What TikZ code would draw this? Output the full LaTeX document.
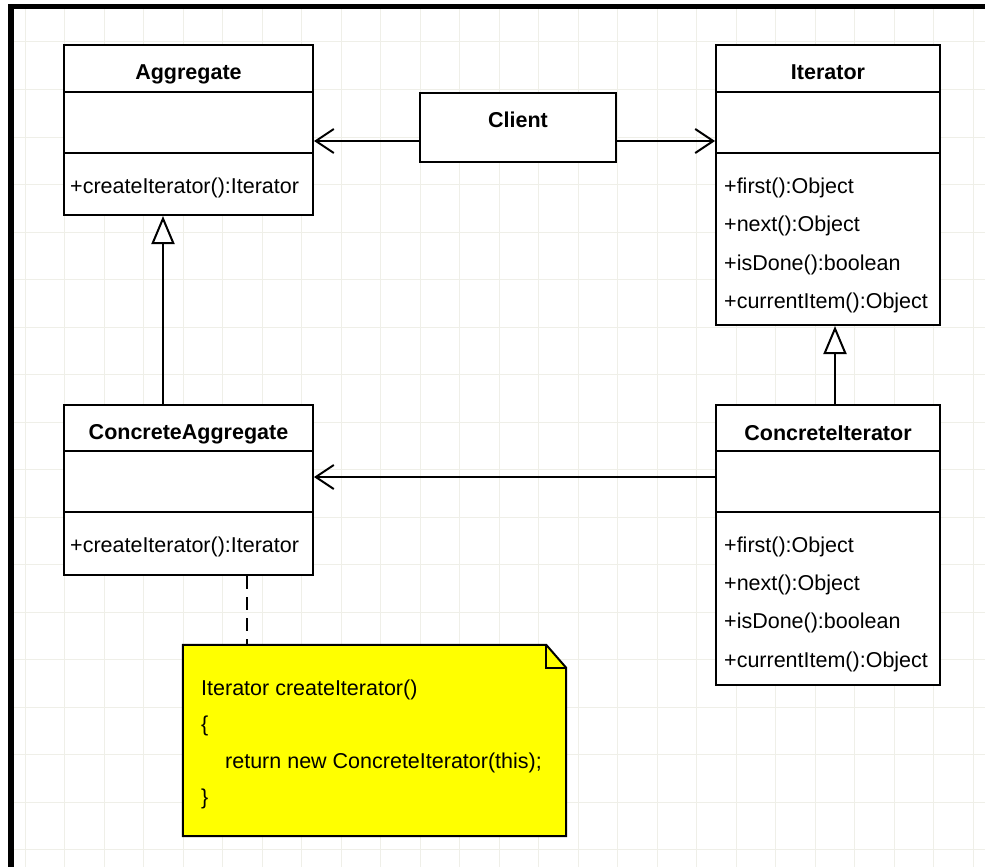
\documentclass[tikz,border=0pt]{standalone}
\usepackage{fontspec}
\setmainfont{Liberation Sans}
\usetikzlibrary{arrows.meta}
\definecolor{gridc}{RGB}{239,239,232}
\definecolor{noteyellow}{RGB}{255,255,0}
\tikzset{
  classbox/.style={draw=black, line width=2pt, fill=white, rectangle, inner sep=0pt},
  divider/.style={line width=2pt},
  ctitle/.style={font=\fontsize{21.5}{26}\selectfont\bfseries, anchor=base, inner sep=0pt},
  member/.style={font=\fontsize{21.5}{26}\selectfont, anchor=base west, inner sep=0pt},
  assoc/.style={line width=2pt, -{Straight Barb[length=18pt,width=24pt]}},
  gen/.style={line width=2pt, -{Triangle[open,length=28pt,width=23pt,fill=white]}},
  notelink/.style={line width=2pt, dash pattern=on 13pt off 8pt},
  notebox/.style={rectangle, inner sep=0pt, minimum width=383pt, minimum height=191pt},
  gridline/.style={draw=gridc, line width=1pt},
}
\begin{document}
\begin{tikzpicture}[x=1pt,y=-1pt]
\useasboundingbox (0,0) rectangle (985,867);
\fill[white] (0,0) rectangle (985,867);
% background grid
\foreach \gx in {0,...,24} \draw[gridline] ({25+39.5*\gx},9) -- ({25+39.5*\gx},867);
\foreach \gy in {1,...,18} \draw[gridline] (14,{-5.5+47.5*\gy}) -- (985,{-5.5+47.5*\gy});
% frame
\fill[black] (8,4) rectangle (985,9.5);
\fill[black] (8,4) rectangle (14,867);

% class boxes
\node[classbox, minimum width=249pt, minimum height=170pt] (agg) at (188.5,130) {};
\node[classbox, minimum width=224pt, minimum height=280pt] (it) at (828,185) {};
\node[classbox, minimum width=196pt, minimum height=69pt] (client) at (518,127.5) {};
\node[classbox, minimum width=249pt, minimum height=170pt] (cagg) at (188.5,490) {};
\node[classbox, minimum width=224pt, minimum height=280pt] (cit) at (828,545) {};

% dividers
\foreach \b in {agg,it} {
  \draw[divider] ([yshift=-48pt]\b.north west) -- ([yshift=-48pt]\b.north east);
  \draw[divider] ([yshift=-109pt]\b.north west) -- ([yshift=-109pt]\b.north east);
}
\foreach \b in {cagg,cit} {
  \draw[divider] ([yshift=-47pt]\b.north west) -- ([yshift=-47pt]\b.north east);
  \draw[divider] ([yshift=-108pt]\b.north west) -- ([yshift=-108pt]\b.north east);
}

% titles
\node[ctitle] (aggT) at (188.5,80) {Aggregate};
\node[ctitle] (itT) at (828,80) {Iterator};
\node[ctitle] (clientT) at (518,127) {Client};
\node[ctitle] (caggT) at (188.5,439) {ConcreteAggregate};
\node[ctitle] (citT) at (828,440) {ConcreteIterator};

% members
\node[member] (aggM) at (70,193) {+createIterator():Iterator};
\node[member] (caggM) at (70,552) {+createIterator():Iterator};
\node[member] (itM1) at (724,193) {+first():Object};
\node[member] (itM2) at (724,231) {+next():Object};
\node[member] (itM3) at (724,270) {+isDone():boolean};
\node[member] (itM4) at (724,308) {+currentItem():Object};
\node[member] (citM1) at (724,552) {+first():Object};
\node[member] (citM2) at (724,590) {+next():Object};
\node[member] (citM3) at (724,628) {+isDone():boolean};
\node[member] (citM4) at (724,667) {+currentItem():Object};

% note
\node[notebox] (note) at (374.5,740.5) {};
\filldraw[fill=noteyellow, line width=2pt, line join=miter]
  (note.north west) -- ([xshift=-20pt]note.north east) -- ([yshift=-23pt]note.north east)
  -- (note.south east) -- (note.south west) -- cycle;
\draw[line width=2pt] ([xshift=-20pt]note.north east) -- ([xshift=-20pt,yshift=-23pt]note.north east)
  -- ([yshift=-23pt]note.north east);
\node[member] (n1) at (201,695) {Iterator createIterator()};
\node[member] (n2) at (201,731) {\{};
\node[member] (n3) at (225,768) {return new ConcreteIterator(this);};
\node[member] (n4) at (201,804) {\}};

% connectors
\draw[assoc] ([yshift=-13.5pt]client.west) -- ([yshift=-11pt]agg.east);
\draw[assoc] ([yshift=-13.5pt]client.east) -- ([yshift=44pt]it.west);
\draw[assoc] ([yshift=68pt]cit.west) -- ([yshift=13pt]cagg.east);
\draw[gen] ([xshift=-25.5pt]cagg.north) -- ([xshift=-25.5pt]agg.south);
\draw[gen] ([xshift=7pt]cit.north) -- ([xshift=7pt]it.south);
\draw[notelink] ([xshift=58.5pt]cagg.south) -- ([xshift=-127.5pt]note.north);
\end{tikzpicture}
\end{document}
